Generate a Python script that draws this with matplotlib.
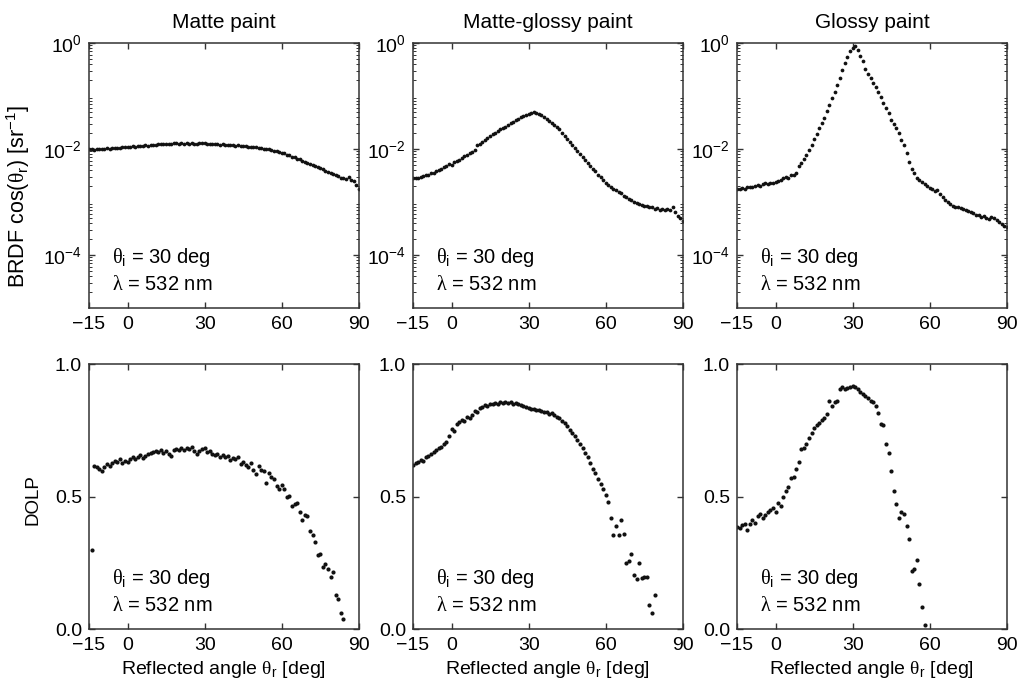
import matplotlib.pyplot as plt
from matplotlib.ticker import LogLocator, NullFormatter

plt.rcParams['font.family'] = ['Liberation Sans', 'DejaVu Sans']
plt.rcParams['mathtext.fontset'] = 'custom'
plt.rcParams['mathtext.rm'] = 'Liberation Sans'
plt.rcParams['mathtext.it'] = 'Liberation Sans:italic'
plt.rcParams['mathtext.bf'] = 'Liberation Sans:bold'
plt.rcParams['mathtext.cal'] = 'Liberation Serif'
plt.rcParams['axes.linewidth'] = 1.1

titles = ['Matte paint', 'Matte-glossy paint', 'Glossy paint']

# reflected angle grid for the BRDF scans (deg)
brdf_angles = list(range(-15, 91))

brdf_matte = [
    9.8e-3, 9.9e-3, 9.7e-3, 1.00e-2, 9.9e-3, 1.01e-2, 1.00e-2, 1.03e-2, 1.01e-2, 1.04e-2,
    1.03e-2, 1.06e-2, 1.04e-2, 1.07e-2, 1.09e-2, 1.08e-2, 1.10e-2, 1.12e-2, 1.10e-2, 1.13e-2,
    1.12e-2, 1.15e-2, 1.17e-2, 1.16e-2, 1.19e-2, 1.21e-2, 1.19e-2, 1.24e-2, 1.27e-2, 1.23e-2,
    1.25e-2, 1.22e-2, 1.26e-2, 1.28e-2, 1.30e-2, 1.27e-2, 1.29e-2, 1.25e-2, 1.28e-2, 1.26e-2,
    1.31e-2, 1.27e-2, 1.25e-2, 1.28e-2, 1.30e-2, 1.29e-2, 1.27e-2, 1.26e-2, 1.24e-2, 1.26e-2,
    1.23e-2, 1.21e-2, 1.23e-2, 1.20e-2, 1.18e-2, 1.20e-2, 1.17e-2, 1.15e-2, 1.17e-2, 1.13e-2,
    1.15e-2, 1.12e-2, 1.10e-2, 1.11e-2, 1.07e-2, 1.08e-2, 1.05e-2, 1.04e-2, 1.02e-2, 1.01e-2,
    9.9e-3, 9.6e-3, 9.3e-3, 9.0e-3, 8.8e-3, 8.5e-3, 8.3e-3, 7.8e-3, 7.7e-3, 7.2e-3,
    7.0e-3, 6.6e-3, 6.5e-3, 6.0e-3, 5.8e-3, 5.5e-3, 5.3e-3, 5.0e-3, 4.8e-3, 4.5e-3,
    4.3e-3, 4.2e-3, 3.9e-3, 3.7e-3, 3.5e-3, 3.4e-3, 3.2e-3, 3.1e-3, 2.9e-3, 2.8e-3,
    2.7e-3, 3.0e-3, 2.6e-3, 2.5e-3, 2.1e-3, 1.8e-3,
]

brdf_matte_glossy = [
    2.8e-3, 2.9e-3, 2.9e-3, 3.0e-3, 3.1e-3, 3.2e-3, 3.3e-3, 3.5e-3, 3.6e-3, 3.8e-3,
    4.0e-3, 4.2e-3, 4.5e-3, 4.8e-3, 5.3e-3, 5.1e-3, 5.6e-3, 6.0e-3, 6.3e-3, 6.9e-3,
    7.4e-3, 7.8e-3, 8.3e-3, 8.9e-3, 9.6e-3, 1.18e-2, 1.24e-2, 1.35e-2, 1.46e-2, 1.62e-2,
    1.75e-2, 1.92e-2, 2.02e-2, 2.18e-2, 2.35e-2, 2.48e-2, 2.65e-2, 2.88e-2, 3.10e-2, 3.30e-2,
    3.55e-2, 3.75e-2, 4.05e-2, 4.20e-2, 4.45e-2, 4.60e-2, 4.85e-2, 4.90e-2, 4.70e-2, 4.55e-2,
    4.30e-2, 3.95e-2, 3.65e-2, 3.35e-2, 3.05e-2, 2.80e-2, 2.60e-2, 2.35e-2, 2.05e-2, 1.80e-2,
    1.55e-2, 1.35e-2, 1.20e-2, 1.05e-2, 9.0e-3, 8.0e-3, 7.0e-3, 6.2e-3, 5.5e-3, 4.8e-3,
    4.2e-3, 3.8e-3, 3.3e-3, 3.0e-3, 2.6e-3, 2.3e-3, 2.1e-3, 1.95e-3, 1.80e-3, 1.68e-3,
    1.55e-3, 1.45e-3, 1.32e-3, 1.22e-3, 1.15e-3, 1.08e-3, 1.02e-3, 9.6e-4, 9.3e-4, 8.9e-4,
    8.5e-4, 8.3e-4, 7.9e-4, 8.1e-4, 7.5e-4, 7.6e-4, 7.2e-4, 7.4e-4, 7.0e-4, 7.3e-4,
    7.1e-4, 8.2e-4, 6.5e-4, 5.4e-4, 4.9e-4, 4.4e-4,
]

brdf_glossy = [
    1.8e-3, 1.8e-3, 1.85e-3, 1.8e-3, 1.9e-3, 1.95e-3, 1.9e-3, 2.0e-3, 2.1e-3, 2.05e-3,
    2.2e-3, 2.3e-3, 2.2e-3, 2.3e-3, 2.25e-3, 2.4e-3, 2.5e-3, 2.6e-3, 2.8e-3, 3.0e-3,
    2.9e-3, 3.2e-3, 3.3e-3, 3.6e-3, 4.8e-3, 5.5e-3, 6.5e-3, 7.8e-3, 9.5e-3, 1.2e-2,
    1.55e-2, 1.9e-2, 2.5e-2, 3.1e-2, 3.9e-2, 5.2e-2, 6.8e-2, 9.0e-2, 0.12, 0.16,
    0.22, 0.31, 0.42, 0.55, 0.70, 0.82, 0.88, 0.74, 0.58, 0.46,
    0.33, 0.26, 0.22, 0.18, 0.15, 0.12, 0.095, 0.075, 0.060, 0.048,
    0.036, 0.030, 0.025, 0.020, 0.015, 0.012, 8.5e-3, 5.8e-3, 4.2e-3, 3.5e-3,
    2.9e-3, 2.6e-3, 2.4e-3, 2.2e-3, 2.0e-3, 1.85e-3, 1.75e-3, 1.65e-3, 1.7e-3, 1.4e-3,
    1.25e-3, 1.1e-3, 1.0e-3, 9.3e-4, 8.6e-4, 8.2e-4, 7.9e-4, 7.6e-4, 7.4e-4, 7.1e-4,
    6.8e-4, 6.6e-4, 6.2e-4, 5.8e-4, 5.6e-4, 5.3e-4, 5.5e-4, 5.1e-4, 4.8e-4, 5.3e-4,
    5.0e-4, 4.5e-4, 4.2e-4, 3.9e-4, 3.6e-4, 3.4e-4,
]

# degree of linear polarization
dolp_matte_angles = list(range(-14, 85))
dolp_matte = [
    0.300, 0.615, 0.612, 0.605, 0.598, 0.610, 0.622, 0.615, 0.628, 0.636,
    0.630, 0.640, 0.628, 0.634, 0.630, 0.640, 0.648, 0.642, 0.650, 0.655,
    0.646, 0.652, 0.660, 0.665, 0.668, 0.672, 0.668, 0.675, 0.664, 0.672,
    0.660, 0.652, 0.675, 0.680, 0.674, 0.682, 0.676, 0.685, 0.678, 0.688,
    0.672, 0.662, 0.670, 0.678, 0.684, 0.668, 0.672, 0.660, 0.655, 0.662,
    0.650, 0.656, 0.648, 0.652, 0.638, 0.645, 0.640, 0.648, 0.622, 0.630,
    0.618, 0.612, 0.625, 0.602, 0.585, 0.615, 0.602, 0.595, 0.550, 0.588,
    0.575, 0.565, 0.540, 0.530, 0.545, 0.528, 0.500, 0.503, 0.466, 0.470,
    0.475, 0.440, 0.410, 0.430, 0.425, 0.370, 0.355, 0.330, 0.280, 0.285,
    0.235, 0.245, 0.228, 0.195, 0.215, 0.130, 0.115, 0.062, 0.038,
]

dolp_matte_glossy_angles = list(range(-15, 80))
dolp_matte_glossy = [
    0.620, 0.628, 0.632, 0.638, 0.635, 0.648, 0.652, 0.662, 0.668, 0.675,
    0.685, 0.688, 0.698, 0.705, 0.728, 0.755, 0.748, 0.775, 0.782, 0.790,
    0.785, 0.800, 0.795, 0.808, 0.822, 0.820, 0.835, 0.838, 0.845, 0.842,
    0.850, 0.848, 0.852, 0.850, 0.855, 0.853, 0.856, 0.854, 0.855, 0.850,
    0.852, 0.848, 0.846, 0.842, 0.838, 0.835, 0.832, 0.830, 0.826, 0.828,
    0.822, 0.820, 0.818, 0.812, 0.815, 0.808, 0.800, 0.795, 0.785, 0.778,
    0.765, 0.752, 0.740, 0.728, 0.715, 0.700, 0.685, 0.665, 0.648, 0.625,
    0.605, 0.588, 0.565, 0.548, 0.530, 0.505, 0.478, 0.418, 0.355, 0.390,
    0.355, 0.410, 0.360, 0.250, 0.258, 0.285, 0.205, 0.188, 0.250, 0.192,
    0.195, 0.195, 0.090, 0.060, 0.128,
]

dolp_glossy_angles = list(range(-15, 59))
dolp_glossy = [
    0.385, 0.380, 0.392, 0.398, 0.372, 0.398, 0.410, 0.402, 0.425, 0.435,
    0.420, 0.432, 0.440, 0.448, 0.455, 0.440, 0.475, 0.465, 0.500, 0.520,
    0.535, 0.570, 0.575, 0.605, 0.630, 0.680, 0.685, 0.700, 0.720, 0.740,
    0.760, 0.770, 0.778, 0.790, 0.798, 0.812, 0.860, 0.840, 0.855, 0.860,
    0.905, 0.915, 0.906, 0.908, 0.912, 0.918, 0.915, 0.905, 0.895, 0.888,
    0.880, 0.872, 0.862, 0.855, 0.840, 0.815, 0.775, 0.770, 0.700, 0.665,
    0.597, 0.520, 0.470, 0.420, 0.440, 0.435, 0.390, 0.340, 0.220, 0.228,
    0.260, 0.170, 0.085, 0.016,
]

brdf_sets = [brdf_matte, brdf_matte_glossy, brdf_glossy]
dolp_sets = [(dolp_matte_angles, dolp_matte),
             (dolp_matte_glossy_angles, dolp_matte_glossy),
             (dolp_glossy_angles, dolp_glossy)]

fig = plt.figure(figsize=(10.26, 6.83), dpi=100)

lefts = [0.0867, 0.4025, 0.7183]
w, h = 0.263, 0.388
ink = '#111111'
tick_fs = 14
text_fs = 14.5

# upright serif greek, as in the printed figure
theta = r'\mathcal{\theta}'
lam = r'\mathcal{\lambda}'


def style_axis(ax):
    ax.set_xlim(-15, 90)
    ax.set_xticks([-15, 0, 30, 60, 90])
    ax.tick_params(which='both', direction='in', top=True, right=True,
                   labelsize=tick_fs, color='#333333')
    ax.tick_params(which='major', length=4, width=1, pad=6)
    ax.tick_params(which='minor', length=2, width=0.7)
    ax.tick_params(axis='y', which='major', pad=5)
    for s in ax.spines.values():
        s.set_color('#333333')
    ax.text(0.085, 0.19, '$' + theta + r'_{\mathrm{i}}$ = 30 deg', transform=ax.transAxes,
            fontsize=text_fs, va='center', ha='left')
    ax.text(0.085, 0.087, '$' + lam + '$ = 532 nm', transform=ax.transAxes,
            fontsize=text_fs, va='center', ha='left')


for i in range(3):
    # BRDF row
    ax = fig.add_axes([lefts[i], 0.549, w, h])
    ax.plot(brdf_angles, brdf_sets[i], 'o', color=ink, markersize=2.7, markeredgewidth=0)
    ax.set_yscale('log')
    ax.set_ylim(1e-5, 1e0)
    ax.set_yticks([1e-4, 1e-2, 1e0])
    ax.yaxis.set_minor_locator(LogLocator(base=10, subs=range(2, 10), numticks=20))
    ax.yaxis.set_minor_formatter(NullFormatter())
    style_axis(ax)
    ax.set_title(titles[i], fontsize=15, pad=11)
    if i == 0:
        ax.set_ylabel('BRDF cos($' + theta + r'_{\mathrm{r}}$) [sr$^{\mathrm{-1}}$]',
                      fontsize=15.5)
        ax.yaxis.set_label_coords(-0.212, 0.42)

    # DOLP row
    ax2 = fig.add_axes([lefts[i], 0.079, w, h])
    xs, ys = dolp_sets[i]
    ax2.plot(xs, ys, 'o', color=ink, markersize=3.0, markeredgewidth=0)
    ax2.set_ylim(0, 1)
    ax2.set_yticks([0.0, 0.5, 1.0])
    style_axis(ax2)
    ax2.set_xlabel('Reflected angle $' + theta + r'_{\mathrm{r}}$ [deg]',
                   fontsize=14, labelpad=3)
    if i == 0:
        ax2.set_ylabel('DOLP', fontsize=13.5)
        ax2.yaxis.set_label_coords(-0.176, 0.49)

fig.savefig('out.png', dpi=100)
